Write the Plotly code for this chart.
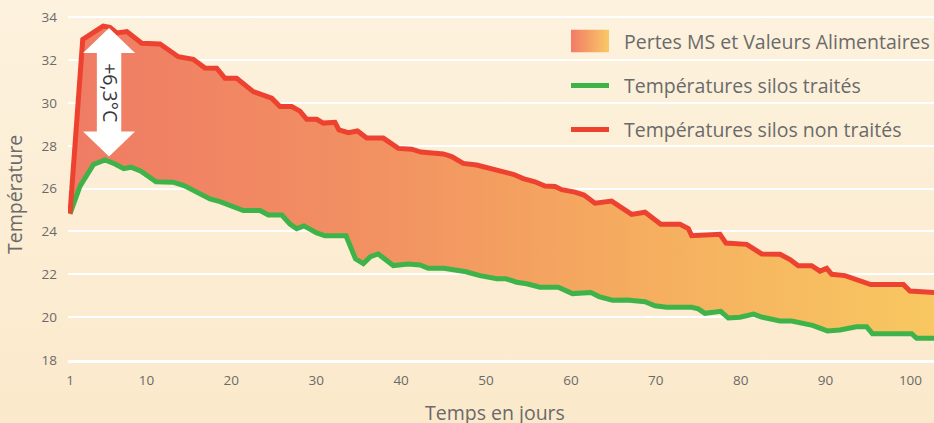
import base64
import plotly.graph_objects as go

# ---------------- data ----------------
days_untreated = [1.0, 2.5, 4.9, 5.7, 6.5, 7.7, 9.45, 11.6, 13.76, 15.52, 16.9, 18.28, 19.26, 20.63,
                  22.59, 23.58, 24.76, 25.73, 27.11, 28.09, 28.88, 30.06, 30.84, 32.21, 32.68, 33.78,
                  34.86, 35.95, 37.9, 39.67, 41.25, 42.34, 44.97, 45.96, 47.32, 48.9, 50.23, 51.65,
                  53.21, 54.39, 55.77, 56.95, 58.13, 58.92, 60.48, 61.54, 62.84, 64.8, 67.16, 68.73,
                  70.59, 72.85, 73.83, 74.23, 77.56, 78.27, 80.71, 82.47, 84.63, 85.81, 86.78, 88.36,
                  89.34, 90.13, 90.72, 92.28, 93.76, 95.32, 99.17, 99.94, 103.5]
temp_untreated = [24.84, 32.97, 33.59, 33.53, 33.27, 33.33, 32.79, 32.75, 32.16, 32.04, 31.63, 31.62,
                  31.15, 31.15, 30.53, 30.37, 30.22, 29.83, 29.83, 29.62, 29.24, 29.24, 29.06, 29.10,
                  28.74, 28.61, 28.69, 28.36, 28.36, 27.88, 27.84, 27.71, 27.62, 27.50, 27.18, 27.10,
                  26.96, 26.84, 26.67, 26.47, 26.32, 26.12, 26.10, 25.95, 25.84, 25.70, 25.32, 25.42,
                  24.80, 24.90, 24.34, 24.34, 24.14, 23.80, 23.87, 23.46, 23.40, 22.95, 22.94, 22.69,
                  22.40, 22.40, 22.15, 22.28, 22.00, 21.94, 21.73, 21.52, 21.52, 21.22, 21.14]

days_treated = [1.0, 2.18, 3.77, 5.12, 6.3, 7.33, 8.18, 9.36, 11.13, 13.13, 14.43, 16.14, 17.49, 18.67,
                21.41, 23.38, 24.36, 25.94, 26.91, 27.7, 28.56, 30.06, 31.04, 33.51, 34.63, 35.55,
                36.39, 37.31, 39.08, 40.85, 42.22, 43.2, 45.05, 47.64, 49.29, 51.29, 52.35, 53.61,
                54.79, 56.36, 58.51, 60.19, 62.37, 63.31, 64.9, 66.61, 68.73, 69.9, 71.28, 74.23,
                75.0, 75.79, 77.65, 78.54, 79.92, 81.53, 82.39, 84.63, 86.01, 88.46, 90.22, 91.69,
                93.64, 94.84, 95.52, 100.14, 100.73, 103.5]
temp_treated = [24.82, 26.12, 27.13, 27.34, 27.15, 26.93, 27.00, 26.81, 26.32, 26.30, 26.14, 25.82,
                25.52, 25.39, 24.98, 24.98, 24.77, 24.77, 24.35, 24.13, 24.26, 23.93, 23.80, 23.80,
                22.72, 22.50, 22.82, 22.95, 22.41, 22.48, 22.44, 22.28, 22.28, 22.12, 21.94, 21.79,
                21.79, 21.63, 21.56, 21.40, 21.40, 21.10, 21.15, 20.96, 20.79, 20.80, 20.72, 20.53,
                20.46, 20.46, 20.39, 20.18, 20.27, 19.96, 20.00, 20.14, 20.01, 19.82, 19.82, 19.62,
                19.36, 19.40, 19.55, 19.55, 19.23, 19.23, 19.01, 19.01]

x_ticks = [1, 10, 20, 30, 40, 50, 60, 70, 80, 90, 100]
y_ticks = [18, 20, 22, 24, 26, 28, 30, 32, 34]

name_fill = "Pertes MS et Valeurs Alimentaires"
name_treated = "Températures silos traités"
name_untreated = "Températures silos non traités"
x_title = "Temps en jours"
y_title = "Température"

arrow_day = 5.6
arrow_low = 27.5
arrow_high = 33.5
arrow_label = "+6,3°C"

# ---------------- styling ----------------
W, H = 934, 423
M_L, M_R, M_T, M_B = 68, 0, 0, 63
PW, PH = W - M_L - M_R, H - M_T - M_B
X_RANGE = [0.7644, 102.77]
Y_RANGE = [18, 34.807]
px_per_day = PW / (X_RANGE[1] - X_RANGE[0])
px_per_deg = PH / (Y_RANGE[1] - Y_RANGE[0])

RED = "#EE4230"
GREEN = "#3EB34A"
TXT = "#6A6A6A"
FONT = "Open Sans"
FILL_SCALE = [[0, "#EF7B64"], [0.35, "#F29162"], [0.65, "#F5AD5F"], [1, "#F8C861"]]


def px_x(p):  # pixel -> paper x
    return (p - M_L) / PW


def px_y(p):  # pixel -> paper y
    return 1 - (p - M_T) / PH


def svg_uri(svg):
    return "data:image/svg+xml;base64," + base64.b64encode(svg.encode()).decode()


fig = go.Figure()

# hidden base for the fill
fig.add_trace(go.Scatter(x=days_treated, y=temp_treated, mode="lines",
                         line=dict(width=0, color="rgba(0,0,0,0)"),
                         showlegend=False, hoverinfo="skip"))
# gradient band
fig.add_trace(go.Scatter(x=days_untreated, y=temp_untreated, mode="lines", name=name_fill,
                         line=dict(width=0, color="rgba(0,0,0,0)"), fill="tonexty",
                         fillgradient=dict(type="horizontal", colorscale=FILL_SCALE),
                         showlegend=False, hoverinfo="skip"))
fig.add_trace(go.Scatter(x=days_treated, y=temp_treated, mode="lines", name=name_treated,
                         line=dict(width=5, color=GREEN), showlegend=False, hoverinfo="skip"))
fig.add_trace(go.Scatter(x=days_untreated, y=temp_untreated, mode="lines", name=name_untreated,
                         line=dict(width=5, color=RED), showlegend=False, hoverinfo="skip"))

# double arrow (sizes in pixels converted through the axis scales)
shaft = 12.2 / px_per_day
head = 26 / px_per_day
head_len = 25 / px_per_deg
xc = arrow_day
pts = [
    (xc, arrow_high),
    (xc + head, arrow_high - head_len),
    (xc + shaft, arrow_high - head_len),
    (xc + shaft, arrow_low + head_len),
    (xc + head, arrow_low + head_len),
    (xc, arrow_low),
    (xc - head, arrow_low + head_len),
    (xc - shaft, arrow_low + head_len),
    (xc - shaft, arrow_high - head_len),
    (xc - head, arrow_high - head_len),
]
path = "M " + " L ".join(f"{px},{py}" for px, py in pts) + " Z"
fig.add_shape(type="path", path=path, xref="x", yref="y", fillcolor="white",
              line=dict(width=0), layer="above")
fig.add_annotation(x=arrow_day, y=(arrow_low + arrow_high) / 2, text=arrow_label, textangle=90,
                   showarrow=False, xshift=2, xanchor="center", yanchor="middle",
                   font=dict(family=FONT, size=19.5, color="#3A3A3A"))

# axis titles
fig.add_annotation(x=px_x(14), y=px_y(195), xref="paper", yref="paper", text=y_title,
                   textangle=-90, showarrow=False, xanchor="center", yanchor="middle",
                   font=dict(family=FONT, size=19.5, color=TXT))
fig.add_annotation(x=px_x(495), y=px_y(412), xref="paper", yref="paper", text=x_title,
                   showarrow=False, xanchor="center", yanchor="middle",
                   font=dict(family=FONT, size=19.5, color=TXT))

# legend (drawn by hand for exact placement)
LEG_X0, LEG_X1, LEG_TX = 571, 609, 622
rows = [(name_fill, 41), (name_treated, 85.5), (name_untreated, 129.5)]
swatch_svg = ("<svg xmlns='http://www.w3.org/2000/svg' width='38' height='23' preserveAspectRatio='none'>"
              "<defs><linearGradient id='s' x1='0' y1='0' x2='1' y2='0'>"
              "<stop offset='0' stop-color='#F27B66'/><stop offset='1' stop-color='#F9C966'/>"
              "</linearGradient></defs><rect width='100%' height='100%' fill='url(#s)'/></svg>")
fig.add_layout_image(source=svg_uri(swatch_svg), xref="paper", yref="paper",
                     x=px_x(LEG_X0), y=px_y(rows[0][1] - 11.5), sizex=38 / PW, sizey=23 / PH,
                     xanchor="left", yanchor="top", sizing="stretch", layer="above")
for (label, yc), col in zip(rows, [None, GREEN, RED]):
    if col:
        fig.add_shape(type="line", xref="paper", yref="paper", x0=px_x(LEG_X0), x1=px_x(LEG_X1),
                      y0=px_y(yc), y1=px_y(yc), line=dict(color=col, width=5))
    fig.add_annotation(x=px_x(LEG_TX), y=px_y(yc), xref="paper", yref="paper", text=label,
                       xanchor="left", yanchor="middle", showarrow=False,
                       font=dict(family=FONT, size=19.5, color=TXT))

# background gradient
bg_svg = (f"<svg xmlns='http://www.w3.org/2000/svg' width='{W}' height='{H}' preserveAspectRatio='none'>"
          "<defs><linearGradient id='g' x1='0' y1='0' x2='0' y2='1'>"
          "<stop offset='0' stop-color='#FDF2DE'/><stop offset='1' stop-color='#FBE9CB'/>"
          "</linearGradient></defs><rect width='100%' height='100%' fill='url(#g)'/></svg>")
fig.add_layout_image(source=svg_uri(bg_svg), xref="paper", yref="paper", x=-M_L / PW, y=1,
                     sizex=W / PW, sizey=H / PH, xanchor="left", yanchor="top",
                     sizing="stretch", layer="below")

fig.update_layout(
    width=W, height=H,
    margin=dict(l=M_L, r=M_R, t=M_T, b=M_B, pad=0),
    paper_bgcolor="#FCEED6", plot_bgcolor="rgba(0,0,0,0)",
    font=dict(family=FONT, color=TXT),
    hovermode=False,
    showlegend=False,
    xaxis=dict(range=X_RANGE, tickvals=x_ticks, showgrid=False, zeroline=False,
               showline=True, linecolor="white", linewidth=3,
               tickfont=dict(size=13.5, color=TXT), ticklabelstandoff=6, fixedrange=True),
    yaxis=dict(range=Y_RANGE, tickvals=y_ticks, showgrid=True, gridcolor="white", gridwidth=2,
               zeroline=False, showline=False,
               tickfont=dict(size=13.5, color=TXT), ticklabelstandoff=10, fixedrange=True),
)

fig.write_html("out.html", config={"displayModeBar": False},
               post_script="document.body.style.margin='0';document.body.style.padding='0';"
                           "document.body.style.overflow='hidden';")
